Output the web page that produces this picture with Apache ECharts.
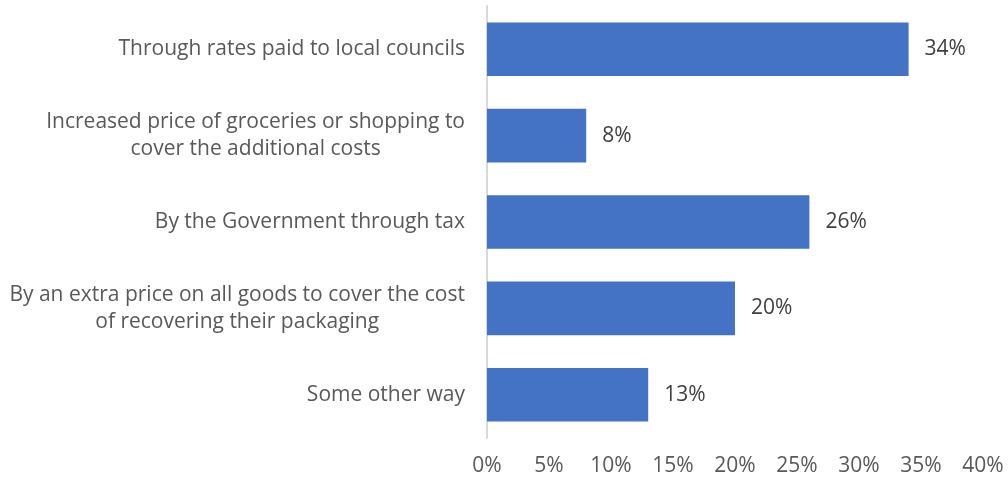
<!DOCTYPE html>
<html>
<head>
<meta charset="utf-8">
<script src="https://cdn.jsdelivr.net/npm/echarts@6/dist/echarts.min.js"></script>
<style>
  html, body { margin: 0; padding: 0; background: #ffffff; }
  #chart { width: 1008px; height: 480px; }
</style>
</head>
<body>
<div id="chart"></div>
<script>
// Answer options, top to bottom
const categories = [
  'Through rates paid to local councils',
  'Increased price of groceries or shopping to\ncover the additional costs',
  'By the Government through tax',
  'By an extra price on all goods to cover the cost\nof recovering their packaging',
  'Some other way'
];
// Share of respondents (%)
const shares = [34, 8, 26, 20, 13];
// Value axis tick range (%)
const axisMin = 0;
const axisMax = 40;
const axisStep = 5;

const FONT = '"Open Sans", sans-serif';
const SIZE = 21;

const chart = echarts.init(document.getElementById('chart'));
chart.setOption({
  animation: false,
  grid: { left: 487, right: 25, top: 6, bottom: 42, containLabel: false },
  xAxis: {
    type: 'value',
    min: axisMin,
    max: axisMax,
    interval: axisStep,
    axisLine: { show: false },
    axisTick: { show: false },
    splitLine: { show: false },
    axisLabel: {
      formatter: v => v + '%',
      color: '#595959',
      fontFamily: FONT,
      fontSize: SIZE,
      margin: 18
    }
  },
  yAxis: {
    type: 'category',
    inverse: true,
    data: categories,
    axisLine: { show: true, lineStyle: { color: '#d9d9d9', width: 2 } },
    axisTick: { show: false },
    axisLabel: {
      margin: 22,
      formatter: v => v.split('\n').map(s => '{c|' + s + '}').join('\n'),
      rich: {
        c: {
          align: 'center',
          color: '#595959',
          fontFamily: FONT,
          fontSize: SIZE,
          lineHeight: 27
        }
      }
    }
  },
  series: [{
    type: 'bar',
    data: shares,
    barWidth: '62%',
    itemStyle: { color: '#4472c4' },
    label: {
      show: true,
      position: 'right',
      distance: 16,
      formatter: p => p.value + '%',
      color: '#404040',
      fontFamily: FONT,
      fontSize: SIZE
    }
  }]
});
</script>
</body>
</html>
